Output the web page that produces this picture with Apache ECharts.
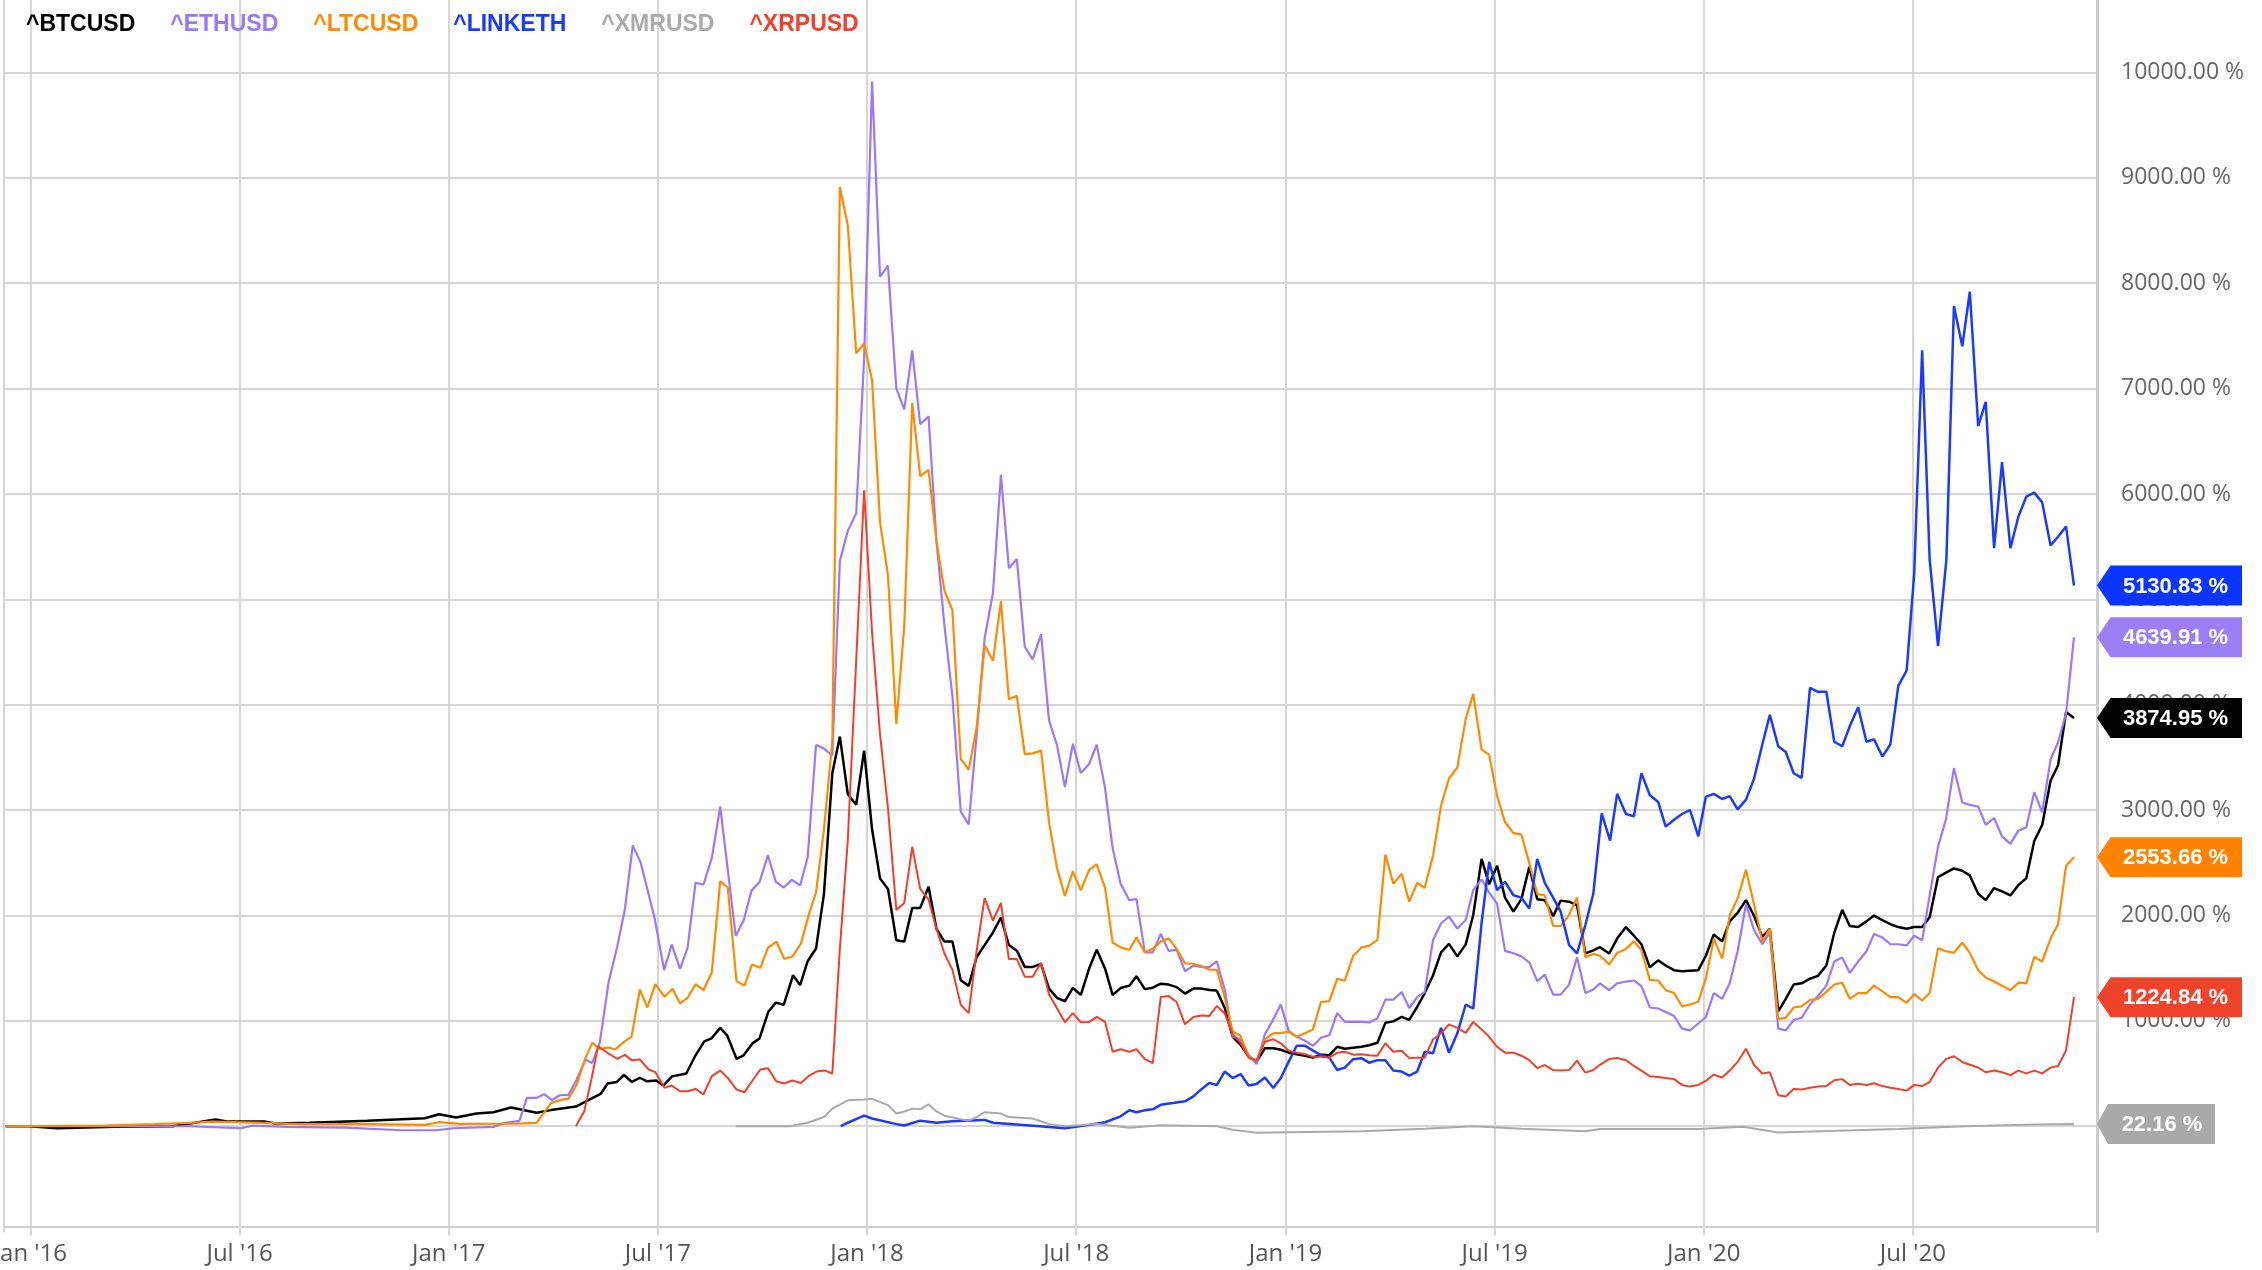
<!DOCTYPE html>
<html><head><meta charset="utf-8">
<script src="https://cdn.jsdelivr.net/npm/echarts@6/dist/echarts.min.js"></script>
<style>html,body{margin:0;padding:0;background:#fff;overflow:hidden}#c{width:2262px;height:1270px}</style>
</head><body><div id="c"></div>
<script>
// ---------- DATA (x = decimal year, y = % change) ----------
const seriesNames = ['^BTCUSD','^ETHUSD','^LTCUSD','^LINKETH','^XMRUSD','^XRPUSD'];
const xTicks = [2016,2016.5,2017,2017.5,2018,2018.5,2019,2019.5,2020,2020.5];
const xTickLabels = ["Jan '16","Jul '16","Jan '17","Jul '17","Jan '18","Jul '18","Jan '19","Jul '19","Jan '20","Jul '20"];

const btc = [[2015.941,0],[2015.996,0],[2016.065,-19],[2016.202,-6],[2016.339,0],[2016.394,32],[2016.442,63],[2016.470,44],[2016.559,44],[2016.586,25],[2016.668,32],[2016.806,51],[2016.943,76],[2016.977,114],[2017.018,82],[2017.066,120],[2017.107,133],[2017.149,177],[2017.210,127],[2017.244,153],[2017.304,187],[2017.363,306],[2017.380,406],[2017.402,420],[2017.419,486],[2017.438,420],[2017.457,460],[2017.474,426],[2017.496,433],[2017.513,386],[2017.534,473],[2017.568,500],[2017.590,673],[2017.611,806],[2017.628,833],[2017.649,933],[2017.666,859],[2017.688,640],[2017.705,673],[2017.726,786],[2017.743,833],[2017.764,1086],[2017.782,1173],[2017.801,1153],[2017.823,1432],[2017.840,1339],[2017.858,1566],[2017.878,1686],[2017.897,2205],[2017.917,3351],[2017.935,3698],[2017.954,3151],[2017.974,3051],[2017.993,3564],[2018.012,2818],[2018.031,2352],[2018.050,2252],[2018.070,1765],[2018.089,1752],[2018.108,2072],[2018.127,2072],[2018.147,2272],[2018.166,1872],[2018.185,1752],[2018.204,1752],[2018.224,1386],[2018.243,1332],[2018.262,1606],[2018.281,1719],[2018.301,1839],[2018.320,1979],[2018.339,1719],[2018.358,1666],[2018.377,1512],[2018.396,1512],[2018.416,1539],[2018.435,1306],[2018.454,1219],[2018.473,1186],[2018.492,1312],[2018.511,1246],[2018.531,1499],[2018.549,1674],[2018.569,1495],[2018.587,1245],[2018.606,1311],[2018.627,1334],[2018.644,1424],[2018.664,1301],[2018.683,1315],[2018.702,1353],[2018.721,1344],[2018.740,1320],[2018.760,1259],[2018.780,1306],[2018.800,1306],[2018.818,1292],[2018.836,1287],[2018.855,1122],[2018.874,849],[2018.893,773],[2018.912,660],[2018.931,613],[2018.951,740],[2018.971,740],[2018.989,726],[2019.008,698],[2019.027,684],[2019.047,669],[2019.066,651],[2019.085,679],[2019.105,674],[2019.124,754],[2019.142,736],[2019.162,745],[2019.182,754],[2019.200,768],[2019.220,792],[2019.239,981],[2019.258,995],[2019.278,1037],[2019.296,1009],[2019.315,1132],[2019.333,1264],[2019.353,1433],[2019.372,1650],[2019.391,1730],[2019.411,1612],[2019.431,1726],[2019.449,2004],[2019.469,2537],[2019.487,2296],[2019.506,2471],[2019.525,2169],[2019.545,2037],[2019.564,2155],[2019.583,2461],[2019.602,2155],[2019.620,2145],[2019.640,1994],[2019.658,2141],[2019.678,2131],[2019.697,2098],[2019.717,1641],[2019.736,1669],[2019.752,1699],[2019.774,1639],[2019.793,1781],[2019.814,1890],[2019.833,1808],[2019.851,1727],[2019.871,1509],[2019.891,1574],[2019.909,1525],[2019.929,1481],[2019.948,1471],[2019.967,1476],[2019.987,1481],[2020.005,1618],[2020.024,1819],[2020.044,1754],[2020.062,1944],[2020.081,2026],[2020.101,2146],[2020.120,1999],[2020.140,1797],[2020.158,1874],[2020.178,1089],[2020.196,1209],[2020.215,1345],[2020.234,1356],[2020.254,1400],[2020.273,1427],[2020.293,1525],[2020.312,1836],[2020.331,2053],[2020.349,1901],[2020.369,1890],[2020.389,1944],[2020.407,1999],[2020.427,1955],[2020.446,1917],[2020.465,1890],[2020.485,1874],[2020.503,1890],[2020.522,1890],[2020.540,1983],[2020.560,2364],[2020.579,2407],[2020.598,2446],[2020.618,2424],[2020.636,2380],[2020.656,2206],[2020.674,2146],[2020.694,2260],[2020.713,2228],[2020.733,2190],[2020.752,2288],[2020.771,2353],[2020.790,2707],[2020.809,2859],[2020.829,3279],[2020.847,3426],[2020.866,3932],[2020.885,3874.95]];

const eth = [[2015.941,0],[2016.202,0],[2016.380,0],[2016.504,-19],[2016.531,6],[2016.614,-6],[2016.751,-13],[2016.888,-38],[2016.970,-38],[2017.012,-19],[2017.107,-6],[2017.135,32],[2017.169,51],[2017.187,269],[2017.210,269],[2017.228,304],[2017.247,247],[2017.265,294],[2017.286,297],[2017.306,443],[2017.327,633],[2017.343,601],[2017.361,791],[2017.382,1361],[2017.403,1709],[2017.421,2057],[2017.440,2665],[2017.459,2500],[2017.492,1978],[2017.515,1481],[2017.533,1725],[2017.553,1494],[2017.571,1693],[2017.590,2310],[2017.609,2294],[2017.629,2547],[2017.649,3032],[2017.686,1806],[2017.705,1952],[2017.724,2238],[2017.743,2318],[2017.763,2572],[2017.782,2318],[2017.801,2265],[2017.820,2338],[2017.840,2285],[2017.858,2552],[2017.878,3618],[2017.897,3584],[2017.917,3518],[2017.935,5363],[2017.954,5650],[2017.974,5816],[2017.993,7282],[2018.012,9913],[2018.031,8061],[2018.050,8168],[2018.070,7002],[2018.089,6802],[2018.108,7362],[2018.127,6662],[2018.147,6736],[2018.166,5550],[2018.185,4750],[2018.204,4084],[2018.224,2985],[2018.243,2865],[2018.262,3718],[2018.281,4630],[2018.301,5063],[2018.320,6182],[2018.339,5296],[2018.358,5383],[2018.377,4550],[2018.396,4430],[2018.416,4670],[2018.435,3851],[2018.454,3618],[2018.473,3218],[2018.492,3631],[2018.511,3351],[2018.531,3438],[2018.549,3621],[2018.569,3206],[2018.587,2640],[2018.606,2301],[2018.627,2145],[2018.644,2155],[2018.664,1650],[2018.683,1650],[2018.702,1825],[2018.721,1664],[2018.740,1674],[2018.760,1471],[2018.780,1523],[2018.800,1509],[2018.818,1509],[2018.836,1565],[2018.855,1297],[2018.874,849],[2018.893,825],[2018.912,679],[2018.931,589],[2018.951,872],[2018.971,1014],[2018.989,1155],[2019.008,905],[2019.027,849],[2019.047,811],[2019.066,764],[2019.085,839],[2019.105,863],[2019.124,1075],[2019.142,990],[2019.162,990],[2019.182,990],[2019.200,985],[2019.220,1023],[2019.239,1202],[2019.258,1202],[2019.278,1273],[2019.296,1122],[2019.315,1226],[2019.333,1273],[2019.353,1768],[2019.372,1924],[2019.391,1990],[2019.411,1876],[2019.431,1957],[2019.449,2240],[2019.469,2343],[2019.487,2216],[2019.506,2112],[2019.525,1664],[2019.545,1641],[2019.564,1612],[2019.583,1556],[2019.602,1377],[2019.620,1438],[2019.640,1249],[2019.658,1249],[2019.678,1344],[2019.697,1603],[2019.717,1264],[2019.736,1297],[2019.752,1356],[2019.774,1291],[2019.793,1356],[2019.814,1373],[2019.833,1383],[2019.851,1329],[2019.871,1127],[2019.891,1117],[2019.909,1084],[2019.929,1046],[2019.948,926],[2019.967,910],[2019.987,975],[2020.005,1035],[2020.024,1264],[2020.044,1209],[2020.062,1356],[2020.081,1661],[2020.101,2108],[2020.120,1863],[2020.140,1727],[2020.158,1836],[2020.178,926],[2020.196,910],[2020.215,1008],[2020.234,1029],[2020.254,1155],[2020.273,1236],[2020.293,1334],[2020.312,1563],[2020.331,1601],[2020.349,1454],[2020.369,1563],[2020.389,1661],[2020.407,1825],[2020.427,1792],[2020.446,1727],[2020.465,1727],[2020.485,1716],[2020.503,1808],[2020.522,1765],[2020.540,2190],[2020.560,2652],[2020.579,2914],[2020.598,3399],[2020.618,3072],[2020.636,3050],[2020.656,3034],[2020.674,2859],[2020.694,2925],[2020.713,2751],[2020.733,2680],[2020.752,2805],[2020.771,2838],[2020.790,3170],[2020.809,2979],[2020.829,3480],[2020.847,3644],[2020.866,3916],[2020.885,4639.91]];

const ltc = [[2015.941,0],[2016.175,6],[2016.298,19],[2016.380,32],[2016.435,44],[2016.559,32],[2016.641,19],[2016.806,19],[2016.943,13],[2016.977,38],[2017.025,22],[2017.162,25],[2017.210,32],[2017.245,222],[2017.272,253],[2017.286,259],[2017.306,396],[2017.327,649],[2017.343,791],[2017.361,734],[2017.382,747],[2017.398,728],[2017.421,807],[2017.437,848],[2017.457,1297],[2017.475,1127],[2017.494,1348],[2017.516,1228],[2017.535,1304],[2017.553,1165],[2017.571,1218],[2017.590,1348],[2017.609,1291],[2017.629,1462],[2017.649,2326],[2017.667,2263],[2017.688,1377],[2017.707,1335],[2017.725,1535],[2017.745,1503],[2017.763,1693],[2017.783,1753],[2017.802,1589],[2017.821,1608],[2017.842,1734],[2017.862,2025],[2017.878,2218],[2017.897,2818],[2017.917,3651],[2017.935,8914],[2017.954,8548],[2017.974,7335],[2017.993,7428],[2018.012,7082],[2018.031,5736],[2018.050,5230],[2018.070,3817],[2018.089,4750],[2018.108,6862],[2018.127,6169],[2018.147,6229],[2018.166,5550],[2018.185,5083],[2018.204,4897],[2018.224,3484],[2018.243,3384],[2018.262,3784],[2018.281,4564],[2018.301,4417],[2018.320,4983],[2018.339,4051],[2018.358,4084],[2018.377,3531],[2018.396,3538],[2018.416,3564],[2018.435,2885],[2018.454,2452],[2018.473,2185],[2018.492,2418],[2018.511,2238],[2018.531,2432],[2018.549,2485],[2018.569,2263],[2018.587,1744],[2018.606,1697],[2018.627,1674],[2018.644,1792],[2018.664,1650],[2018.683,1683],[2018.702,1754],[2018.721,1782],[2018.740,1683],[2018.760,1546],[2018.780,1542],[2018.800,1518],[2018.818,1485],[2018.836,1485],[2018.855,1226],[2018.874,896],[2018.893,858],[2018.912,660],[2018.931,622],[2018.951,825],[2018.971,882],[2018.989,886],[2019.008,896],[2019.027,849],[2019.047,882],[2019.066,919],[2019.085,1179],[2019.105,1188],[2019.124,1400],[2019.142,1381],[2019.162,1617],[2019.182,1697],[2019.200,1711],[2019.220,1768],[2019.239,2579],[2019.258,2301],[2019.278,2395],[2019.296,2131],[2019.315,2310],[2019.333,2263],[2019.353,2570],[2019.372,3041],[2019.391,3300],[2019.411,3404],[2019.431,3866],[2019.449,4102],[2019.469,3574],[2019.487,3527],[2019.506,3135],[2019.525,2885],[2019.545,2782],[2019.564,2768],[2019.583,2499],[2019.602,2202],[2019.620,2192],[2019.640,1900],[2019.658,1900],[2019.678,2004],[2019.697,2169],[2019.717,1603],[2019.736,1636],[2019.752,1618],[2019.774,1536],[2019.793,1645],[2019.814,1683],[2019.833,1754],[2019.851,1672],[2019.871,1389],[2019.891,1383],[2019.909,1291],[2019.929,1264],[2019.948,1138],[2019.967,1155],[2019.987,1182],[2020.005,1400],[2020.024,1781],[2020.044,1590],[2020.062,1999],[2020.081,2162],[2020.101,2435],[2020.120,2108],[2020.140,1754],[2020.158,1874],[2020.178,1019],[2020.196,1029],[2020.215,1127],[2020.234,1138],[2020.254,1198],[2020.273,1209],[2020.293,1275],[2020.312,1345],[2020.331,1362],[2020.349,1209],[2020.369,1264],[2020.389,1264],[2020.407,1334],[2020.427,1280],[2020.446,1225],[2020.465,1225],[2020.485,1171],[2020.503,1253],[2020.522,1193],[2020.540,1264],[2020.560,1688],[2020.579,1661],[2020.598,1645],[2020.618,1743],[2020.636,1645],[2020.656,1481],[2020.674,1411],[2020.694,1373],[2020.713,1334],[2020.733,1291],[2020.752,1362],[2020.771,1356],[2020.790,1607],[2020.809,1563],[2020.829,1781],[2020.847,1917],[2020.866,2473],[2020.885,2553.66]];

const link = [[2017.937,0],[2017.954,33],[2017.993,100],[2018.012,73],[2018.070,20],[2018.089,7],[2018.127,53],[2018.166,33],[2018.204,47],[2018.281,60],[2018.301,33],[2018.413,0],[2018.473,-20],[2018.533,14],[2018.569,38],[2018.606,94],[2018.627,151],[2018.644,132],[2018.664,151],[2018.683,160],[2018.702,203],[2018.760,236],[2018.780,283],[2018.800,354],[2018.818,410],[2018.836,391],[2018.855,519],[2018.874,457],[2018.893,495],[2018.912,387],[2018.931,401],[2018.951,462],[2018.971,363],[2018.989,457],[2019.008,613],[2019.027,764],[2019.047,764],[2019.066,717],[2019.085,674],[2019.105,651],[2019.124,533],[2019.142,556],[2019.162,636],[2019.182,646],[2019.200,603],[2019.220,627],[2019.239,627],[2019.258,528],[2019.278,519],[2019.296,481],[2019.315,519],[2019.333,707],[2019.353,693],[2019.372,934],[2019.391,698],[2019.411,882],[2019.431,1155],[2019.449,1117],[2019.469,1933],[2019.487,2508],[2019.506,2240],[2019.525,2320],[2019.545,2192],[2019.564,2169],[2019.583,2065],[2019.602,2537],[2019.620,2310],[2019.640,2169],[2019.658,2037],[2019.678,1721],[2019.697,1641],[2019.717,1909],[2019.736,2206],[2019.756,2970],[2019.776,2711],[2019.793,3154],[2019.814,2963],[2019.833,2941],[2019.851,3350],[2019.871,3143],[2019.891,3077],[2019.909,2843],[2019.929,2908],[2019.948,2963],[2019.967,3001],[2019.987,2751],[2020.005,3126],[2020.024,3154],[2020.044,3105],[2020.062,3132],[2020.081,3007],[2020.101,3099],[2020.120,3295],[2020.140,3622],[2020.158,3905],[2020.178,3606],[2020.196,3551],[2020.215,3350],[2020.234,3306],[2020.254,4161],[2020.273,4123],[2020.293,4123],[2020.312,3649],[2020.331,3606],[2020.349,3796],[2020.369,3976],[2020.389,3649],[2020.407,3671],[2020.427,3508],[2020.446,3622],[2020.465,4178],[2020.485,4325],[2020.503,5240],[2020.522,7364],[2020.540,5376],[2020.560,4559],[2020.580,5376],[2020.598,7783],[2020.618,7402],[2020.636,7919],[2020.656,6645],[2020.674,6874],[2020.694,5485],[2020.713,6302],[2020.733,5485],[2020.752,5784],[2020.771,5975],[2020.790,6013],[2020.809,5920],[2020.829,5512],[2020.847,5594],[2020.866,5692],[2020.885,5130.83]];

const xmr = [[2017.686,0],[2017.816,0],[2017.858,33],[2017.897,87],[2017.917,167],[2017.954,246],[2017.993,253],[2018.012,260],[2018.050,200],[2018.070,120],[2018.089,140],[2018.108,167],[2018.127,160],[2018.147,207],[2018.166,140],[2018.185,100],[2018.224,67],[2018.243,53],[2018.262,87],[2018.281,133],[2018.320,120],[2018.339,87],[2018.396,73],[2018.435,20],[2018.473,0],[2018.550,20],[2018.627,-14],[2018.702,9],[2018.836,0],[2018.874,-33],[2018.931,-61],[2019.008,-57],[2019.182,-47],[2019.333,-24],[2019.449,0],[2019.564,-24],[2019.717,-47],[2019.752,-27],[2019.987,-27],[2020.094,-5],[2020.178,-60],[2020.465,-27],[2020.625,0],[2020.790,16],[2020.885,22.16]];

const xrp = [[2017.304,0],[2017.324,142],[2017.341,443],[2017.357,759],[2017.382,690],[2017.403,639],[2017.421,677],[2017.437,627],[2017.457,633],[2017.478,538],[2017.494,513],[2017.516,364],[2017.533,386],[2017.553,332],[2017.571,332],[2017.590,354],[2017.609,301],[2017.629,475],[2017.649,528],[2017.667,459],[2017.688,348],[2017.707,323],[2017.725,427],[2017.745,538],[2017.763,551],[2017.783,427],[2017.802,405],[2017.821,434],[2017.842,411],[2017.862,481],[2017.882,522],[2017.900,528],[2017.917,500],[2017.935,1686],[2017.954,2718],[2017.974,4417],[2017.993,6036],[2018.012,4684],[2018.031,3718],[2018.050,3018],[2018.070,2052],[2018.089,2119],[2018.108,2652],[2018.127,2252],[2018.147,2152],[2018.166,1872],[2018.185,1639],[2018.204,1486],[2018.224,1153],[2018.243,1073],[2018.262,1666],[2018.281,2165],[2018.301,1952],[2018.320,2119],[2018.339,1586],[2018.358,1586],[2018.377,1419],[2018.396,1419],[2018.416,1552],[2018.435,1253],[2018.454,1119],[2018.473,986],[2018.492,1073],[2018.511,986],[2018.531,990],[2018.549,1037],[2018.569,990],[2018.587,707],[2018.606,731],[2018.627,707],[2018.644,731],[2018.664,636],[2018.683,599],[2018.702,1226],[2018.721,1235],[2018.740,1179],[2018.760,967],[2018.780,1037],[2018.800,1051],[2018.818,1047],[2018.836,1141],[2018.855,1070],[2018.874,872],[2018.893,792],[2018.912,651],[2018.931,622],[2018.951,801],[2018.971,825],[2018.989,787],[2019.008,717],[2019.027,698],[2019.047,684],[2019.066,660],[2019.085,660],[2019.105,651],[2019.124,698],[2019.142,707],[2019.162,679],[2019.182,684],[2019.200,674],[2019.220,669],[2019.239,787],[2019.258,707],[2019.278,717],[2019.296,646],[2019.315,651],[2019.333,651],[2019.353,825],[2019.372,882],[2019.391,967],[2019.411,934],[2019.431,886],[2019.449,990],[2019.469,919],[2019.487,849],[2019.506,754],[2019.525,698],[2019.545,698],[2019.564,669],[2019.583,627],[2019.602,552],[2019.620,580],[2019.640,533],[2019.658,528],[2019.678,533],[2019.697,622],[2019.717,509],[2019.736,533],[2019.752,583],[2019.774,637],[2019.793,648],[2019.814,626],[2019.833,572],[2019.851,528],[2019.871,474],[2019.891,468],[2019.909,458],[2019.929,447],[2019.948,392],[2019.967,376],[2019.987,392],[2020.005,430],[2020.024,490],[2020.044,463],[2020.062,528],[2020.081,610],[2020.101,735],[2020.120,583],[2020.140,501],[2020.158,512],[2020.178,294],[2020.196,283],[2020.215,354],[2020.234,349],[2020.254,365],[2020.273,376],[2020.293,381],[2020.312,436],[2020.331,447],[2020.349,392],[2020.369,403],[2020.389,392],[2020.407,408],[2020.427,381],[2020.446,365],[2020.465,354],[2020.485,338],[2020.503,392],[2020.522,381],[2020.540,419],[2020.560,556],[2020.579,637],[2020.598,664],[2020.618,610],[2020.636,583],[2020.656,556],[2020.674,512],[2020.694,528],[2020.713,512],[2020.733,485],[2020.752,528],[2020.771,501],[2020.790,528],[2020.809,501],[2020.829,556],[2020.847,572],[2020.866,719],[2020.885,1224.84]];

// ---------- STYLE ----------
const seriesData = [btc, eth, ltc, link, xmr, xrp];
const lineColors = ['#000000','#9a78fa','#ff8a00','#1a3aff','#aaaaaa','#f0402b'];
const badgeColors = ['#000000','#9c7ef6','#ff8300','#0a34ff','#a9a9a9','#ef432c'];
const lineWidths = [2.5,2.2,2.2,2.5,2,2];
const X_MIN = 2015.937, X_MAX = 2020.94;
const FONT = 'Liberation Sans, Arial, sans-serif';
const AXIS_FONT = '"Open Sans", "Noto Sans", sans-serif';
const badgePath = 'path://M0,20L14,0L150,0L150,40L14,40Z';

const chart = echarts.init(document.getElementById('c'));
const series = seriesNames.map((name, i) => {
  const d = seriesData[i];
  const last = d[d.length - 1][1];
  const txt = last.toFixed(2) + ' %';
  const w = 23.5 + 13.5 * txt.length;
  return {
    name, type: 'line', data: d, showSymbol: false, symbol: 'none',
    lineStyle: { color: lineColors[i], width: lineWidths[i] },
    itemStyle: { color: lineColors[i] },
    emphasis: { disabled: true }, animation: false, silent: true,
    markPoint: {
      symbol: badgePath, symbolSize: [w, 40], symbolOffset: [w / 2, 0], symbolKeepAspect: false,
      itemStyle: { color: badgeColors[i] },
      label: { show: true, position: 'inside', formatter: txt, color: '#fff', fontWeight: 'bold', fontSize: 22, fontFamily: FONT, offset: [6, 1] },
      data: [{ coord: [X_MAX, last], value: last }],
      animation: false, silent: true
    }
  };
});

chart.setOption({
  animation: false,
  backgroundColor: '#ffffff',
  legend: {
    left: 15, top: 8, itemWidth: 0, itemHeight: 0, itemGap: 29, selectedMode: false,
    data: seriesNames.map((n, i) => ({ name: n, textStyle: { color: lineColors[i] } })),
    textStyle: { fontSize: 23, fontWeight: 'bold', fontFamily: FONT }
  },
  grid: { left: 4, right: 165, top: -32.9, bottom: 38.4, containLabel: false, outerBoundsMode: 'none' },
  xAxis: {
    type: 'value', min: X_MIN, max: X_MAX, offset: -5,
    axisLine: { show: true, onZero: false, lineStyle: { color: '#cfcfcf', width: 2 } },
    axisTick: { show: true, length: 9, customValues: xTicks, lineStyle: { color: '#d6d6d6', width: 2 } },
    axisLabel: { customValues: xTicks, color: '#555', fontSize: 24, fontFamily: AXIS_FONT, margin: 16,
      formatter: v => { const k = xTicks.findIndex(t => Math.abs(t - v) < 1e-6); return k >= 0 ? xTickLabels[k] : ''; } },
    splitLine: { show: true, lineStyle: { color: '#d6d6d6', width: 2 } }
  },
  yAxis: [{
    type: 'value', position: 'right', min: -1000, max: 11000, interval: 1000,
    axisLine: { show: true, lineStyle: { color: '#cdcdcd', width: 3 } },
    axisTick: { show: false },
    axisLabel: { color: '#666', fontSize: 23, fontFamily: AXIS_FONT, margin: 24, align: 'left',
      formatter: v => (v < 0 || v > 10000) ? '' : v.toFixed(2) + ' %' },
    splitLine: { show: true, showMinLine: false, showMaxLine: false, lineStyle: { color: '#d6d6d6', width: 2 } }
  }, {
    type: 'value', position: 'left', min: -1000, max: 11000,
    axisLine: { show: true, lineStyle: { color: '#d6d6d6', width: 2 } },
    axisTick: { show: false }, axisLabel: { show: false }, splitLine: { show: false }
  }],
  series
});
</script></body></html>
